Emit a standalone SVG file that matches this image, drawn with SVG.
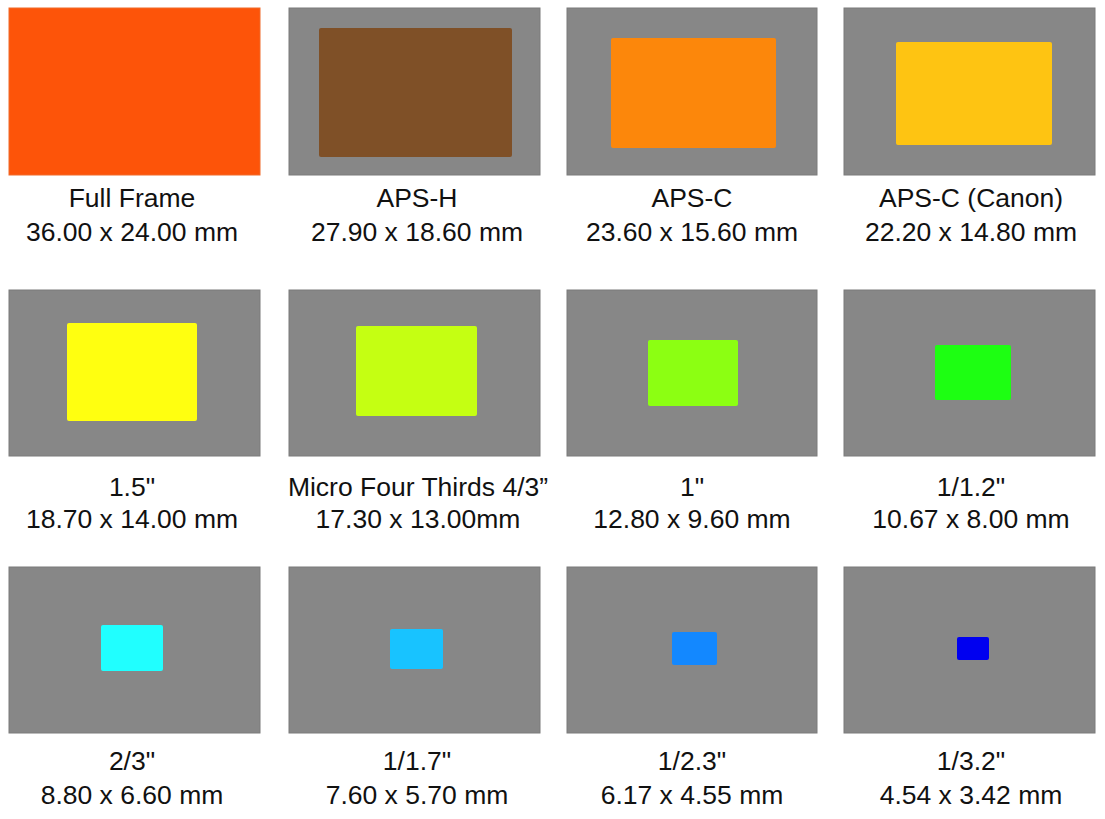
<svg xmlns="http://www.w3.org/2000/svg" width="1105" height="819" viewBox="0 0 1105 819">
<style>
.bg{fill:#ffffff}
.panel{fill:#878787;stroke:#7b7b7b;stroke-width:1}
.sensor{rx:2;ry:2}
.lbl{font-family:"Liberation Sans",Arial,sans-serif;font-size:26.5px;fill:#111111;text-anchor:middle}
</style>
<rect class="bg" x="0" y="0" width="1105" height="819"/>
<g id="full-frame">
<rect x="9" y="8" width="251" height="167" fill="#fd5409" stroke="#f06a2a" stroke-width="1"/>
<text class="lbl" x="132" y="207">Full Frame</text>
<text class="lbl" x="132" y="241">36.00 x 24.00 mm</text>
</g>
<g id="aps-h">
<rect class="panel" x="289" y="8" width="251" height="167"/>
<rect class="sensor" x="319" y="28" width="193" height="129" fill="#7f5027"/>
<text class="lbl" x="417" y="207">APS-H</text>
<text class="lbl" x="417" y="241">27.90 x 18.60 mm</text>
</g>
<g id="aps-c">
<rect class="panel" x="567" y="8" width="250" height="167"/>
<rect class="sensor" x="611" y="38" width="165" height="110" fill="#fc870b"/>
<text class="lbl" x="692" y="207">APS-C</text>
<text class="lbl" x="692" y="241">23.60 x 15.60 mm</text>
</g>
<g id="aps-c-canon">
<rect class="panel" x="844" y="8" width="251" height="167"/>
<rect class="sensor" x="896" y="42" width="156" height="103" fill="#fec412"/>
<text class="lbl" x="971" y="207">APS-C (Canon)</text>
<text class="lbl" x="971" y="241">22.20 x 14.80 mm</text>
</g>
<g id="one-point-five">
<rect class="panel" x="9" y="290" width="251" height="166"/>
<rect class="sensor" x="67" y="323" width="130" height="98" fill="#ffff10"/>
<text class="lbl" x="132" y="496">1.5"</text>
<text class="lbl" x="132" y="528">18.70 x 14.00 mm</text>
</g>
<g id="micro-four-thirds">
<rect class="panel" x="289" y="290" width="251" height="166"/>
<rect class="sensor" x="356" y="326" width="121" height="90" fill="#c5ff12"/>
<text class="lbl" x="418" y="496">Micro Four Thirds 4/3”</text>
<text class="lbl" x="418" y="528">17.30 x 13.00mm</text>
</g>
<g id="one-inch">
<rect class="panel" x="567" y="290" width="250" height="166"/>
<rect class="sensor" x="648" y="340" width="90" height="66" fill="#8cff12"/>
<text class="lbl" x="692" y="496">1"</text>
<text class="lbl" x="692" y="528">12.80 x 9.60 mm</text>
</g>
<g id="one-over-1-2">
<rect class="panel" x="844" y="290" width="251" height="166"/>
<rect class="sensor" x="935" y="345" width="76" height="55" fill="#1dff12"/>
<text class="lbl" x="971" y="496">1/1.2"</text>
<text class="lbl" x="971" y="528">10.67 x 8.00 mm</text>
</g>
<g id="two-thirds">
<rect class="panel" x="9" y="567" width="251" height="166"/>
<rect class="sensor" x="101" y="625" width="62" height="46" fill="#20ffff"/>
<text class="lbl" x="132" y="770">2/3"</text>
<text class="lbl" x="132" y="804">8.80 x 6.60 mm</text>
</g>
<g id="one-over-1-7">
<rect class="panel" x="289" y="567" width="251" height="166"/>
<rect class="sensor" x="390" y="629" width="53" height="40" fill="#18c3ff"/>
<text class="lbl" x="417" y="770">1/1.7"</text>
<text class="lbl" x="417" y="804">7.60 x 5.70 mm</text>
</g>
<g id="one-over-2-3">
<rect class="panel" x="567" y="567" width="250" height="166"/>
<rect class="sensor" x="672" y="632" width="45" height="33" fill="#1388ff"/>
<text class="lbl" x="692" y="770">1/2.3"</text>
<text class="lbl" x="692" y="804">6.17 x 4.55 mm</text>
</g>
<g id="one-over-3-2">
<rect class="panel" x="844" y="567" width="251" height="166"/>
<rect class="sensor" x="957" y="637" width="32" height="23" fill="#0000f0"/>
<text class="lbl" x="971" y="770">1/3.2"</text>
<text class="lbl" x="971" y="804">4.54 x 3.42 mm</text>
</g>
<g id="connectors"/>
</svg>
